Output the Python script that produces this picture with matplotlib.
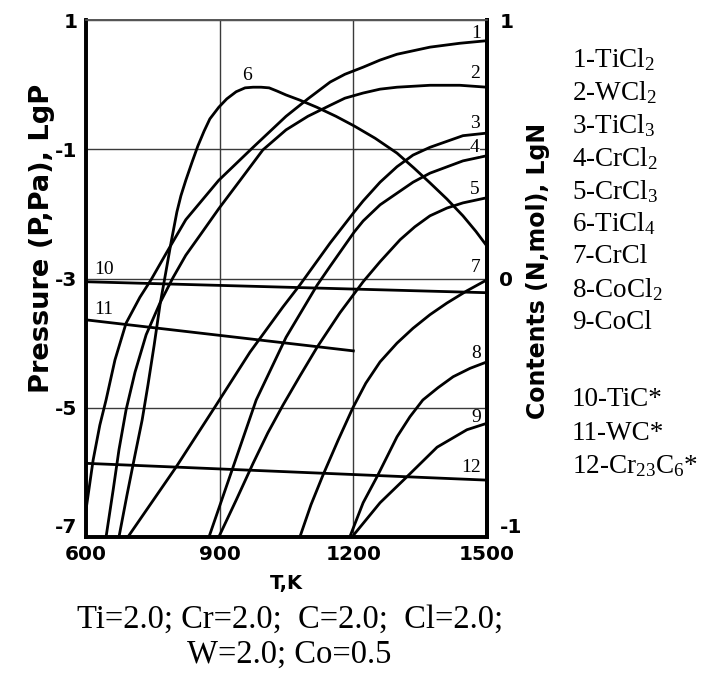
import numpy as np
import matplotlib
matplotlib.use('Agg')
from matplotlib import pyplot as plt

plt.rcParams['axes.unicode_minus'] = False
plt.rcParams['mathtext.fontset'] = 'custom'
plt.rcParams['mathtext.rm'] = 'Liberation Serif'
plt.rcParams['mathtext.it'] = 'Liberation Serif:italic'

# gas species, lg P vs T (left axis)
t1 = [600, 616, 631, 645, 665, 690, 721, 746, 780, 824, 898, 975, 1049, 1098, 1148, 1181, 1222, 1260, 1298, 1372, 1439, 1500]
lg1 = [-6.58, -5.81, -5.27, -4.88, -4.26, -3.69, -3.29, -3.02, -2.61, -2.09, -1.48, -0.97, -0.49, -0.22, 0.04, 0.16, 0.27, 0.38, 0.47, 0.58, 0.64, 0.68]
t2 = [645, 661, 674, 690, 710, 735, 766, 795, 824, 856, 898, 946, 997, 1049, 1098, 1148, 1181, 1222, 1260, 1298, 1372, 1439, 1500]
lg2 = [-7.0, -6.27, -5.65, -5.03, -4.45, -3.87, -3.38, -2.99, -2.64, -2.33, -1.92, -1.48, -1.01, -0.70, -0.49, -0.32, -0.21, -0.13, -0.07, -0.04, -0.01, -0.01, -0.04]
t3 = [694, 744, 802, 892, 968, 1042, 1080, 1148, 1202, 1222, 1260, 1298, 1334, 1372, 1446, 1500]
lg3 = [-7.0, -6.50, -5.92, -4.96, -4.14, -3.44, -3.10, -2.45, -1.97, -1.80, -1.51, -1.27, -1.09, -0.97, -0.79, -0.75]
t4 = [876, 930, 982, 1049, 1119, 1148, 1202, 1222, 1260, 1298, 1334, 1372, 1446, 1500]
lg4 = [-7.0, -5.92, -4.88, -3.91, -3.10, -2.81, -2.28, -2.11, -1.86, -1.68, -1.51, -1.37, -1.18, -1.10]
t5 = [898, 937, 975, 1008, 1042, 1080, 1119, 1170, 1222, 1260, 1305, 1338, 1372, 1410, 1446, 1500]
lg5 = [-7.0, -6.43, -5.86, -5.39, -4.96, -4.51, -4.06, -3.53, -3.05, -2.74, -2.40, -2.20, -2.03, -1.91, -1.83, -1.75]
t6 = [674, 692, 710, 726, 739, 753, 766, 780, 791, 804, 813, 824, 838, 851, 865, 878, 898, 916, 937, 957,
      975, 993, 1011, 1029, 1049, 1080, 1118, 1161, 1202, 1249, 1298, 1336, 1372, 1410, 1446, 1475, 1500]
lg6 = [-7.0, -6.35, -5.73, -5.19, -4.65, -4.03, -3.41, -2.87, -2.44, -1.97, -1.72, -1.48, -1.20, -0.95, -0.72, -0.53, -0.35, -0.22, -0.11, -0.05,
       -0.04, -0.04, -0.05, -0.10, -0.16, -0.24, -0.35, -0.49, -0.64, -0.83, -1.06, -1.29, -1.52, -1.77, -2.03, -2.27, -2.50]
t7 = [1080, 1105, 1132, 1166, 1199, 1228, 1260, 1298, 1334, 1372, 1410, 1455, 1500]
lg7 = [-7.0, -6.50, -6.04, -5.50, -5.00, -4.62, -4.29, -4.00, -3.77, -3.56, -3.38, -3.19, -3.02]
t8 = [1192, 1222, 1253, 1298, 1327, 1356, 1390, 1424, 1462, 1500]
lg8 = [-7.0, -6.47, -6.07, -5.45, -5.14, -4.88, -4.69, -4.52, -4.39, -4.29]
t9 = [1197, 1260, 1320, 1388, 1455, 1500]
lg9 = [-7.0, -6.47, -6.07, -5.61, -5.34, -5.24]

# condensed phases, lg N vs T (right axis)
t10 = [600, 1500]
n10 = [-0.0125, -0.055]
t11 = [600, 1200]
n11 = [-0.16, -0.28]
t12 = [600, 1500]
n12 = [-0.715, -0.78]

legend_gas = [r'1-TiCl$_2$', r'2-WCl$_2$', r'3-TiCl$_3$', r'4-CrCl$_2$', r'5-CrCl$_3$',
              r'6-TiCl$_4$', '7-CrCl', r'8-CoCl$_2$', '9-CoCl']
legend_solid = ['10-TiC*', '11-WC*', r'12-Cr$_{23}$C$_6$*']

W, H = 706, 681
serif = 'Liberation Serif'
sans = 'DejaVu Sans'

fig = plt.figure(figsize=(W / 100, H / 100), dpi=100)
ax = fig.add_axes([86 / W, 1 - 537 / H, 401 / W, 517 / H])

gas = [(t1, lg1), (t2, lg2), (t3, lg3), (t4, lg4), (t5, lg5), (t6, lg6), (t7, lg7), (t8, lg8), (t9, lg9)]
for t, lg in gas:
    ax.plot(t, lg, color='black', lw=2.0, solid_joinstyle='round')

ax.set_xlim(600, 1500)
ax.set_ylim(-7, 1)
ax.set_xticks([600, 900, 1200, 1500])
ax.set_xticklabels(['600', '900', '1200', '1500'], fontsize=14.5, fontweight='bold', fontfamily=sans)
ax.set_yticks([1, -1, -3, -5, -7])
ax.set_yticklabels(['1', '-1', '-3', '-5', '-7'], fontsize=14.5, fontweight='bold', fontfamily=sans)
ax.tick_params(axis='both', length=0)
ax.tick_params(axis='x', pad=6)
ax.tick_params(axis='y', pad=6)
for lbl in ax.get_yticklabels():
    if lbl.get_text() == '-7':
        lbl.set_verticalalignment('bottom')
ax.grid(True, color='#3a3a3a', lw=1.0)

ax2 = ax.twinx()
for t, n in [(t10, n10), (t11, n11), (t12, n12)]:
    ax2.plot(t, n, color='black', lw=2.0)
ax2.set_ylim(-1, 1)
ax2.set_yticks([1, 0, -1])
ax2.set_yticklabels(['1', '0', '-1'], fontsize=14.5, fontweight='bold', fontfamily=sans)
ax2.tick_params(axis='y', length=0, pad=9)
for lbl in ax2.get_yticklabels():
    if lbl.get_text() == '-1':
        lbl.set_verticalalignment('bottom')

for a in (ax, ax2):
    for s in a.spines.values():
        s.set_color('black')
    a.spines['left'].set_linewidth(2.6)
    a.spines['bottom'].set_linewidth(2.6)
    a.spines['right'].set_linewidth(2.8)
    a.spines['top'].set_linewidth(1.2)
    a.spines['top'].set_color('#555555')

# curve numbers
curve_marks = [('1', 1475, 33), ('2', 1474, 73), ('3', 1474, 123), ('4', 1473, 147), ('5', 1473, 190),
               ('6', 962, 75), ('7', 1475, 268), ('8', 1475, 353), ('9', 1475, 417), ('12', 1465, 468),
               ('10', 640, 270), ('11', 640, 310)]
for txt, xpos, ypx in curve_marks:
    bb = dict(facecolor='white', edgecolor='none', pad=0.3) if txt == '4' else None
    ax.text(xpos, 1 - (ypx - 20) * 8 / 517, txt, fontsize=14, fontfamily=serif,
            ha='center', va='center', bbox=bb)

fig.text(42 / W, 1 - 238 / H, 'Pressure (P,Pa), LgP', rotation=90, fontsize=19.6,
         fontweight='bold', fontfamily=sans, ha='center', va='center')
fig.text(538 / W, 1 - 271 / H, 'Contents (N,mol), LgN', rotation=90, fontsize=17,
         fontweight='bold', fontfamily=sans, ha='center', va='center')
fig.text(286 / W, 1 - 583 / H, 'T,K', fontsize=14, fontweight='bold', fontfamily=sans,
         ha='center', va='center')

for i, s in enumerate(legend_gas):
    fig.text(572 / W, 1 - (60 + i * 32.8) / H, s, fontsize=19.5, fontfamily=serif,
             ha='left', va='center')
for i, s in enumerate(legend_solid):
    fig.text(572 / W, 1 - (400 + i * 33) / H, s, fontsize=19.5, fontfamily=serif,
             ha='left', va='center')

fig.text(290 / W, 1 - 620 / H, 'Ti=2.0; Cr=2.0;  C=2.0;  Cl=2.0;', fontsize=23.5,
         fontfamily=serif, ha='center', va='center')
fig.text(289 / W, 1 - 655 / H, 'W=2.0; Co=0.5', fontsize=23.5,
         fontfamily=serif, ha='center', va='center')

fig.savefig('out.png', dpi=100)
